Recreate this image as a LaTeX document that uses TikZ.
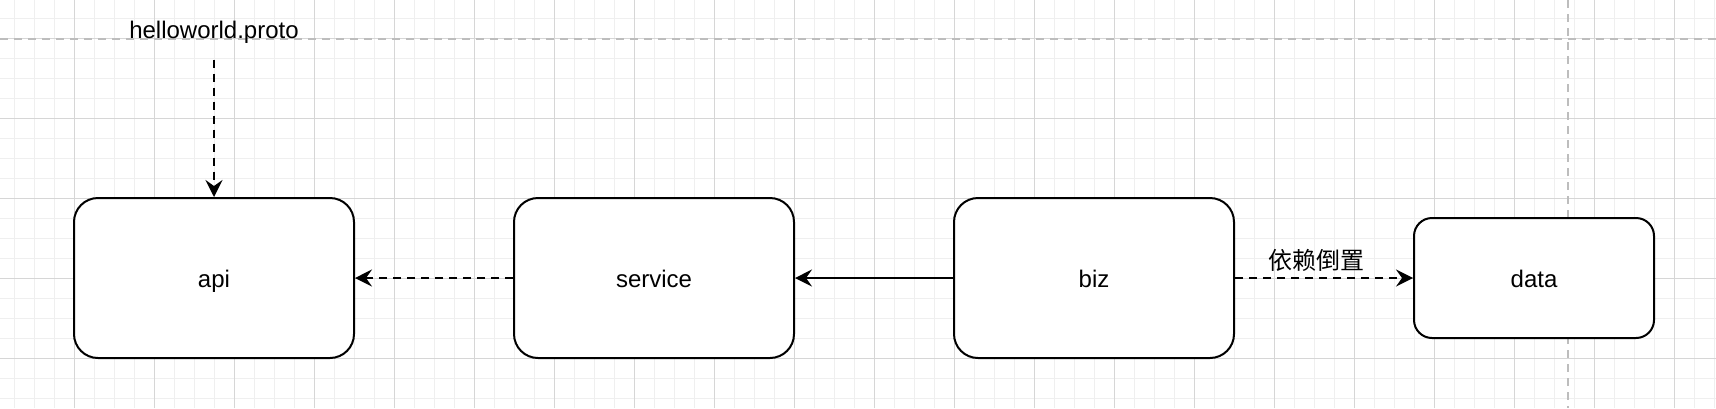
\documentclass[tikz,border=0pt]{standalone}
\usepackage{fontspec}
\setmainfont{Liberation Sans}
\newfontfamily\cjk{Noto Sans CJK SC}
\usepackage{tikz}
\usetikzlibrary{arrows.meta}

\definecolor{minorgrid}{HTML}{EFEFEF}
\definecolor{majorgrid}{HTML}{D6D6D6}
\definecolor{pageline}{HTML}{BDBDBD}

\tikzset{
  layer/.style={draw=black, fill=white, line width=1pt, rounded corners=12pt,
    minimum width=140pt, minimum height=80pt, inner sep=0pt,
    text height=11.9pt, text depth=2.5pt,
    font=\fontsize{12}{14}\selectfont},
  lbl/.style={inner sep=0pt, font=\fontsize{12}{14}\selectfont},
  dep/.style={line width=1pt, -{Stealth[length=8.5pt,width=8.5pt,inset=3pt]}},
  weakdep/.style={dep, dash pattern=on 4pt off 3pt},
  pagebreak/.style={pageline, line width=0.8pt, dash pattern=on 4pt off 3pt}
}

\begin{document}
\begin{tikzpicture}[x=1pt, y=-1pt]
    \useasboundingbox (0,0) rectangle (858,204);
    \fill[white] (0,0) rectangle (858,204);
    % canvas grid
    \draw[minorgrid, line width=0.5pt, shift={(7,9)}] (-7,195) grid[step=10pt] (851,-9);
    \draw[majorgrid, line width=0.5pt, shift={(37,19)}] (-37,185) grid[step=40pt] (821,-19);
    \draw[pagebreak] (0,19.5) -- (858,19.5);
    \draw[pagebreak] (784,0) -- (784,204);

    % layers
    \node[layer] (api) at (107,139) {api};
    \node[layer] (service) at (327,139) {service};
    \node[layer] (biz) at (547,139) {biz};
    \node[layer, minimum width=120pt, minimum height=60pt, rounded corners=9pt] (data) at (767,139) {data};

    \node[lbl] (proto) at (107,16) {helloworld.proto};
    \node[lbl] (dip) at (658,130) {\cjk 依赖倒置};

    % dependencies
    \draw[weakdep, shorten <=8pt] (proto) -- (api);
    \draw[weakdep] (service) -- (api);
    \draw[dep] (biz) -- (service);
    \draw[weakdep] (biz) -- (data);
\end{tikzpicture}
\end{document}
